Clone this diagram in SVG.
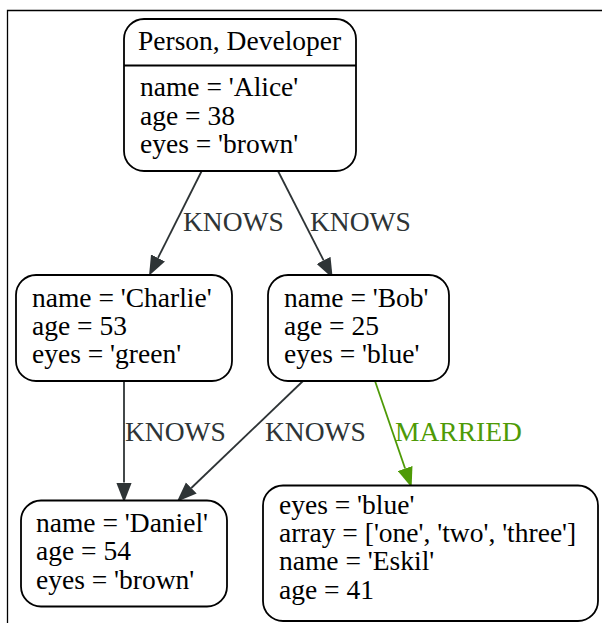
<svg xmlns="http://www.w3.org/2000/svg" width="602" height="623" viewBox="0 0 602 623">
<defs>
<style>
.box{fill:#ffffff;stroke:#000000;stroke-width:1.8}
.t{font-family:"Liberation Serif","Times New Roman",serif;font-size:27.5px;fill:#000000}
.e{fill:none;stroke:#2e3436;stroke-width:1.8}
.eg{fill:none;stroke:#4e9a06;stroke-width:1.8}
.lbl{font-family:"Liberation Serif","Times New Roman",serif;font-size:27.5px;fill:#2e3436}
.lblg{font-family:"Liberation Serif","Times New Roman",serif;font-size:27.5px;fill:#4e9a06}
</style>
<marker id="ah" markerUnits="userSpaceOnUse" markerWidth="20" markerHeight="16" refX="0" refY="7" orient="auto" viewBox="0 0 18 14">
<path d="M0,0 L18,7 L0,14 z" fill="#2e3436"/>
</marker>
<marker id="ahg" markerUnits="userSpaceOnUse" markerWidth="20" markerHeight="16" refX="0" refY="7" orient="auto" viewBox="0 0 18 14">
<path d="M0,0 L18,7 L0,14 z" fill="#4e9a06"/>
</marker>
</defs>
<rect width="602" height="623" fill="#ffffff"/>
<path d="M7.5,623 V10.5 H602" fill="none" stroke="#000000" stroke-width="1.3"/>

<g id="connectors">
<path class="e" d="M201.7,171 L158,257.9" marker-end="url(#ah)"/>
<text class="lbl" x="183" y="231">KNOWS</text>
<path class="e" d="M278,171 L323.6,260.4" marker-end="url(#ah)"/>
<text class="lbl" x="310" y="231">KNOWS</text>
<path class="e" d="M124,381 L124,482.5" marker-end="url(#ah)"/>
<text class="lbl" x="125" y="441">KNOWS</text>
<path class="e" d="M303,381 L191.3,488" marker-end="url(#ah)"/>
<text class="lbl" x="265" y="441">KNOWS</text>
<path class="eg" d="M375,381 L405.1,468.5" marker-end="url(#ahg)"/>
<text class="lblg" x="395" y="441">MARRIED</text>
</g>

<g id="alice">
<rect class="box" x="124" y="19" width="232" height="152" rx="20" ry="20"/>
<line x1="124" y1="65.5" x2="356" y2="65.5" stroke="#000000" stroke-width="1.8"/>
<text class="t" x="138" y="50">Person, Developer</text>
<text class="t" x="140" y="96">name = 'Alice'</text>
<text class="t" x="140" y="124.5">age = 38</text>
<text class="t" x="140" y="153">eyes = 'brown'</text>
</g>

<g id="charlie">
<rect class="box" x="16" y="275" width="216" height="106" rx="20" ry="20"/>
<text class="t" x="32" y="306.5">name = 'Charlie'</text>
<text class="t" x="32" y="335">age = 53</text>
<text class="t" x="32" y="363">eyes = 'green'</text>
</g>

<g id="bob">
<rect class="box" x="268" y="275" width="181" height="106" rx="20" ry="20"/>
<text class="t" x="284" y="306.5">name = 'Bob'</text>
<text class="t" x="284" y="335">age = 25</text>
<text class="t" x="284" y="363">eyes = 'blue'</text>
</g>

<g id="daniel">
<rect class="box" x="21" y="500.5" width="206" height="106" rx="20" ry="20"/>
<text class="t" x="36" y="532">name = 'Daniel'</text>
<text class="t" x="36" y="560">age = 54</text>
<text class="t" x="36" y="588.5">eyes = 'brown'</text>
</g>

<g id="eskil">
<rect class="box" x="263" y="485.5" width="335" height="135.5" rx="20" ry="20"/>
<text class="t" x="279" y="513.5">eyes = 'blue'</text>
<text class="t" x="279" y="542">array = ['one', 'two', 'three']</text>
<text class="t" x="279" y="570">name = 'Eskil'</text>
<text class="t" x="279" y="598.5">age = 41</text>
</g>
</svg>
